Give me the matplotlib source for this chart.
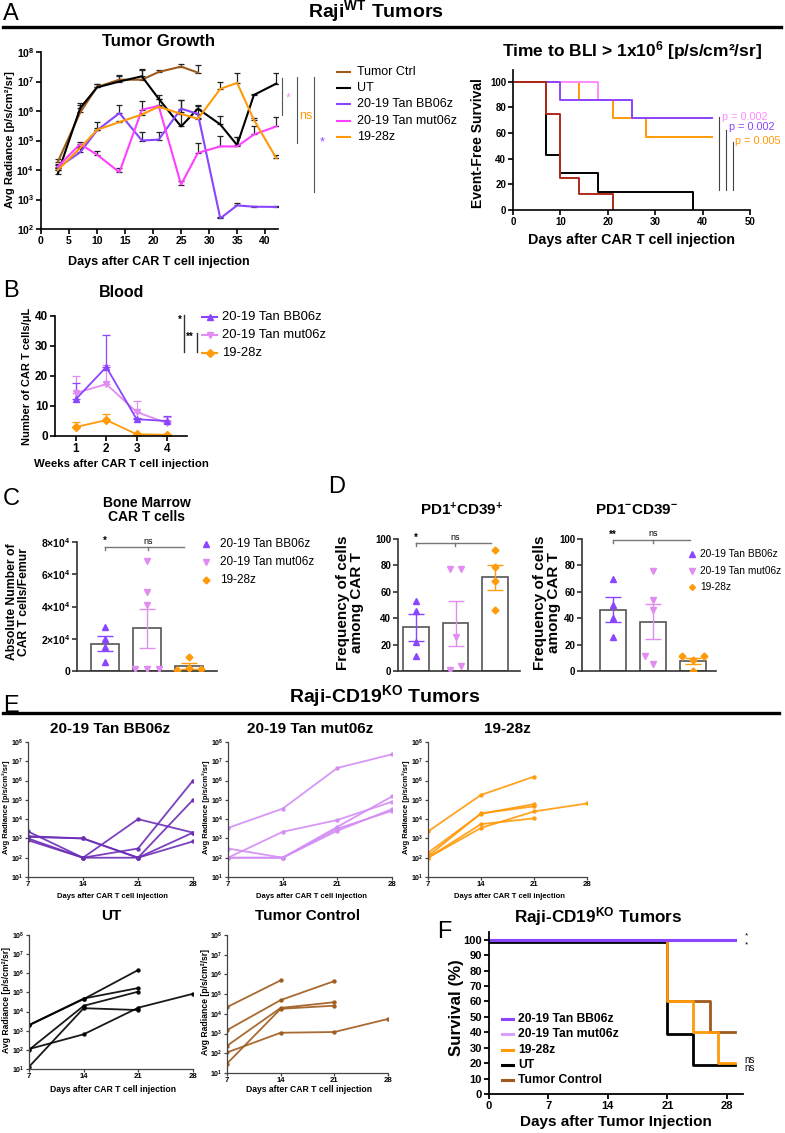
import numpy as np
import matplotlib
matplotlib.use("Agg")
import matplotlib.pyplot as plt
from matplotlib.lines import Line2D
from matplotlib.ticker import NullLocator
from matplotlib import font_manager
import matplotlib.transforms as mtransforms

W, H = 785, 1133
plt.rcParams['font.family'] = ['Liberation Sans', 'DejaVu Sans']
plt.rcParams['font.weight'] = 'bold'
plt.rcParams['mathtext.fontset'] = 'custom'
plt.rcParams['mathtext.rm'] = 'Liberation Sans:bold'
plt.rcParams['mathtext.bf'] = 'Liberation Sans:bold'
plt.rcParams['mathtext.it'] = 'Liberation Sans:bold'
plt.rcParams['mathtext.default'] = 'rm'
plt.rcParams['axes.unicode_minus'] = False

installed = {f.name for f in font_manager.fontManager.ttflist}
NARROW = 'Liberation Sans Narrow' in installed
NF = ['Liberation Sans Narrow', 'Liberation Sans'] if NARROW else ['Liberation Sans']
NS = 1.0 if NARROW else 0.82

# colours
C_TC = '#a05a1c'
C_UT = 'black'
C_BB = '#8a45ff'
C_MUT = '#ff40ff'
C_MUT_L = '#e08cf0'
C_KM_MUT = '#ff8cff'
C_KM_TC = '#b02a1a'
C_ORG = '#ff9a0a'
C_E_BB = '#6c2db5'
C_E_MUT = '#d38cf5'
C_F_MUT = '#d9a0ff'

# ---------------- data ----------------
# A: tumour growth, mean and top of error bar
days_a = [3, 7, 10, 14, 18, 21, 25, 28, 32, 35, 38, 42]
tc_mean = [1.9e4, 9.0e5, 6.5e6, 1.15e7, 1.15e7, 2.1e7, 3.2e7, 2.0e7]
tc_upper = [2.3e4, 1.6e6, 8.3e6, 1.6e7, 2.5e7, 2.4e7, 4.0e7, 3.7e7]
ut_mean = [7.6e3, 1.26e6, 6.3e6, 1.0e7, 1.5e7, 2.6e6, 3.0e5, 1.2e6, 3.5e5, 7.0e4, 3.5e6, 8.5e6]
ut_upper = [1.0e4, 1.9e6, 8.5e6, 1.5e7, 2.6e7, 3.5e6, 2.4e6, 1.6e6, 7.0e5, 1.3e5, 3.9e6, 1.9e7]
bb_mean = [1.2e4, 4.0e4, 2.2e5, 8.5e5, 1.0e5, 1.07e5, 1.2e6, 8.0e5, 2.3e2, 6.3e2, 5.7e2, 5.6e2]
bb_upper = [1.5e4, 6.0e4, 4.2e5, 1.6e6, 1.9e5, 1.9e5, 2.4e6, 1.5e6, 2.5e2, 7.6e2, 5.9e2, 5.8e2]
mut_mean = [1.3e4, 7.6e4, 3.3e4, 8.4e3, 1.1e6, 1.5e6, 3.2e3, 3.8e4, 6.3e4, 6.3e4, 1.6e5, 3.0e5]
mut_upper = [1.6e4, 9.0e4, 4.5e4, 1.2e4, 2.1e6, 2.6e6, 4.1e3, 8.3e4, 1.4e5, 1.3e5, 3.2e5, 6.1e5]
org_mean = [1.0e4, 5.6e4, 2.3e5, 4.2e5, 7.6e5, 1.4e6, 8.0e5, 5.4e5, 5.6e6, 9.0e6, 5.0e5, 2.5e4]
org_upper = [1.2e4, 6.5e4, 2.6e5, 4.6e5, 8.5e5, 1.6e6, 9.0e5, 6.0e5, 1.0e7, 1.9e7, 5.8e5, 3.2e4]

# A right: event-free survival (step)
km_tc_t, km_tc_s = [0, 7, 10, 14, 21], [100, 75, 25, 12.5, 0]
km_ut_t, km_ut_s = [0, 7, 10, 18, 38], [100, 42.9, 28.6, 14.3, 0]
km_bb_t, km_bb_s = [0, 10, 25, 42], [100, 85.7, 71.4, 71.4]
km_mut_t, km_mut_s = [0, 18, 25, 42], [100, 85.7, 71.4, 71.4]
km_org_t, km_org_s = [0, 14, 21, 28, 42], [100, 85.7, 71.4, 57.1, 57.1]

# B: blood
weeks = [1, 2, 3, 4]
blood_bb = [12.3, 23.0, 5.6, 5.0]
blood_bb_err = [5.5, 10.8, 0.4, 1.8]
blood_mut = [14.3, 17.3, 8.0, 4.3]
blood_mut_err = [5.8, 6.5, 3.6, 2.2]
blood_org = [3.0, 5.3, 0.6, 0.4]
blood_org_err = [1.6, 1.9, 0.2, 0.2]

# C: bone marrow
groups = ['20-19 Tan BB06z', '20-19 Tan mut06z', '19-28z']
bm_mean = [1.69e4, 2.65e4, 0.31e4]
bm_sem = [0.47e4, 1.21e4, 0.18e4]
bm_bb = [2.7e4, 2.0e4, 1.5e4, 0.55e4]
bm_mut = [6.85e4, 4.9e4, 4.1e4, 0.1e4, 0.1e4, 0.1e4]
bm_org = [0.85e4, 0.2e4, 0.05e4, 0.15e4]
bm_mut_jit = [0, 0, 0, -0.28, 0, 0.28]
bm_org_jit = [0, 0, -0.28, 0.28]

# D: PD1+CD39+ and PD1-CD39-
pp_mean = [33.0, 36.0, 71.0]
pp_sem = [10.0, 16.7, 9.5]
pp_bb = [53, 45.5, 22, 11.5]
pp_mut = [77, 77, 25.5, 4, 0.5]
pp_org = [91.5, 78.5, 68, 46]
pp_mut_jit = [-0.14, 0.14, 0, 0.14, -0.14]
nn_mean = [46.5, 37.5, 7.6]
nn_sem = [9.2, 13.3, 2.6]
nn_bb = [69.5, 50, 40, 26]
nn_mut = [75.5, 54, 46, 11, 5]
nn_org = [11, 11, 8.5, 0]
nn_mut_jit = [0, 0, 0, -0.2, 0]
nn_org_jit = [-0.27, 0.27, 0, 0]

# E: individual BLI curves (days 7, 14, 21, 28)
e_days = [7, 14, 21, 28]
nan = np.nan
e_bb = [[1.3e3, 1.0e3, 1.0e2, 2.0e3],
        [1.2e3, 1.0e3, 1.0e2, 7.0e2],
        [2.3e3, 1.0e2, 1.0e4, 2.0e3],
        [8.0e2, 1.0e2, 3.0e2, 1.0e6],
        [1.0e3, 1.0e2, 1.0e2, 1.0e5]]
e_mut = [[3.5e3, 3.5e4, 4.5e6, 2.3e7],
         [1.0e2, 2.2e3, 9.0e3, 8.0e4],
         [3.0e2, 1.0e2, 4.0e3, 1.5e5],
         [1.0e2, 1.0e2, 3.2e3, 2.7e4],
         [1.0e2, 1.0e2, 2.5e3, 3.3e4]]
e_org = [[2.3e3, 1.8e5, 1.6e6, nan],
         [1.8e2, 1.9e4, 6.0e4, nan],
         [1.2e2, 2.0e4, 4.6e4, nan],
         [1.0e2, 5.5e3, 1.1e4, nan],
         [1.0e2, 3.5e3, 2.5e4, 6.5e4]]
e_ut = [[1.9e3, 4.5e4, 1.5e6, nan],
        [2.0e3, 4.8e4, 1.7e5, nan],
        [1.0e2, 2.0e4, 1.1e5, nan],
        [1.3e1, 1.5e4, 1.2e4, nan],
        [1.1e2, 6.5e2, 1.6e4, 8.5e4]]
e_tc = [[2.2e4, 5.0e5, nan, nan],
        [1.5e3, 5.0e4, 4.6e5, nan],
        [2.4e2, 2.0e4, 3.9e4, nan],
        [1.1e2, 1.1e3, 1.2e3, 5.5e3],
        [3.0e1, 1.8e4, 2.6e4, nan]]

# F: survival
f_bb_t, f_bb_s = [0, 29], [100, 100]
f_mut_t, f_mut_s = [0, 29], [100, 100]
f_org_t, f_org_s = [0, 21, 24, 27, 29], [100, 60, 40, 20, 20]
f_ut_t, f_ut_s = [0, 21, 24, 29], [100, 40, 20, 20]
f_tc_t, f_tc_s = [0, 21, 26, 29], [100, 60, 40, 40]

# ---------------- helpers ----------------
fig = plt.figure(figsize=(W / 100, H / 100), dpi=100)


def px_axes(x0, y0, x1, y1):
    return fig.add_axes([x0 / W, 1 - y1 / H, (x1 - x0) / W, (y1 - y0) / H])


def ftext(x, y, s, **kw):
    kw.setdefault('ha', 'center')
    kw.setdefault('va', 'center')
    return fig.text(x / W, 1 - y / H, s, **kw)


def fline(xs, ys, **kw):
    fig.add_artist(Line2D([x / W for x in xs], [1 - y / H for y in ys], **kw))


def clean(ax, lw=1.2, size=7.5, length=3.5, color='black', pad=1.5):
    ax.spines['top'].set_visible(False)
    ax.spines['right'].set_visible(False)
    for s in ('left', 'bottom'):
        ax.spines[s].set_linewidth(lw)
        ax.spines[s].set_color(color)
    ax.tick_params(width=lw, length=length, labelsize=size, pad=pad, color=color)


def log_ticks(ax, lo, hi, size, **kw):
    ax.set_yscale('log')
    ax.set_ylim(10.0 ** lo, 10.0 ** hi)
    ax.set_yticks([10.0 ** k for k in range(lo, hi + 1)])
    ax.set_yticklabels([r'$10^{%d}$' % k for k in range(lo, hi + 1)], fontsize=size, **kw)
    ax.yaxis.set_minor_locator(NullLocator())


def legend_entry(x0, x1, y, color, label, tx, size, marker=None, ms=4, lw=1.5, weight='normal'):
    if lw > 0:
        fline([x0, x1], [y, y], color=color, lw=lw)
    if marker:
        fig.add_artist(Line2D([(x0 + x1) / 2 / W], [1 - y / H], marker=marker, color=color,
                              ms=ms, ls='none'))
    ftext(tx, y, label, ha='left', fontsize=size, fontweight=weight)


# ---------------- headers ----------------
ftext(3, 20, 'A', ha='left', va='baseline', fontsize=17, fontweight='normal')
ftext(376, 17, r'Raji$^{WT}$ Tumors', va='baseline', fontsize=14)
fline([3, 781], [26.5, 26.5], color='black', lw=2.4)

# ---------------- A left ----------------
ax = px_axes(41, 52, 278, 229)
clean(ax)
for mean, upper, col in [(tc_mean, tc_upper, C_TC), (ut_mean, ut_upper, C_UT),
                         (bb_mean, bb_upper, C_BB), (mut_mean, mut_upper, C_MUT),
                         (org_mean, org_upper, C_ORG)]:
    d = days_a[:len(mean)]
    ax.plot(d, mean, color=col, lw=1.5, zorder=3)
    ax.errorbar(d, mean, yerr=[np.zeros(len(mean)), np.array(upper) - np.array(mean)],
                fmt='none', ecolor='#222222', elinewidth=0.9, capsize=2.3, capthick=0.9, zorder=2)
log_ticks(ax, 2, 8, 7.5)
ax.set_xlim(0, 42.3)
ax.set_xticks(range(0, 45, 5))
ax.tick_params(axis='x', labelsize=7.5)
ftext(159, 42, 'Tumor Growth', fontsize=12)
ftext(159, 262, 'Days after CAR T cell injection', fontsize=9)
ftext(10, 140, 'Avg Radiance [p/s/cm²/sr]', rotation=90, fontsize=8)

# significance bars
fline([282, 282], [78, 115], color='#555555', lw=0.8)
ftext(288, 98, '*', color=C_KM_MUT, fontsize=9, fontweight='normal')
fline([297, 297], [77, 143], color='#555555', lw=0.8)
ftext(306, 116, 'ns', color=C_ORG, fontsize=9, fontweight='normal')
fline([314, 314], [77, 192], color='#555555', lw=0.8)
ftext(322, 142, '*', color=C_BB, fontsize=9, fontweight='normal')

for i, (lab, col) in enumerate([('Tumor Ctrl', C_TC), ('UT', C_UT), ('20-19 Tan BB06z', C_BB),
                                ('20-19 Tan mut06z', C_MUT), ('19-28z', C_ORG)]):
    legend_entry(337, 350, 72 + i * 16.2, col, lab, 357, 9)

# ---------------- A right ----------------
ax = px_axes(513, 70, 750, 210)
clean(ax, size=7)
for t, s, col in [(km_org_t, km_org_s, C_ORG), (km_mut_t, km_mut_s, C_KM_MUT),
                  (km_bb_t, km_bb_s, C_BB), (km_ut_t, km_ut_s, C_UT),
                  (km_tc_t, km_tc_s, C_KM_TC)]:
    ax.step(t, s, where='post', color=col, lw=1.4)
ax.set_xlim(0, 50)
ax.set_ylim(0, 109)
ax.set_xticks(range(0, 60, 10))
ax.set_yticks(range(0, 120, 20))
ftext(632, 51, r'Time to BLI > 1x10$^{6}$ [p/s/cm²/sr]', fontsize=12.5)
ftext(632, 240, 'Days after CAR T cell injection', fontsize=10.3)
ftext(478, 143, 'Event-Free Survival', rotation=90, fontsize=10)
fline([719, 719], [117, 190], color='#444444', lw=0.8)
fline([726, 726], [130, 190], color='#444444', lw=0.8)
fline([733, 733], [142, 190], color='#444444', lw=0.8)
ftext(722, 117, 'p = 0.002', ha='left', color=C_KM_MUT, fontsize=7.8, fontweight='normal')
ftext(729, 127, 'p = 0.002', ha='left', color=C_BB, fontsize=7.8, fontweight='normal')
ftext(735, 141, 'p = 0.005', ha='left', color=C_ORG, fontsize=7.8, fontweight='normal')

# ---------------- B ----------------
ftext(3, 297, 'B', ha='left', va='baseline', fontsize=17, fontweight='normal')
ax = px_axes(55, 316, 187, 436)
clean(ax, size=8.5)
for vals, err, col, mk in [(blood_org, blood_org_err, C_ORG, 'D'),
                           (blood_mut, blood_mut_err, C_MUT_L, 'v'),
                           (blood_bb, blood_bb_err, C_BB, '^')]:
    ax.errorbar(weeks, vals, yerr=[np.zeros(4), err], color=col, lw=1.3, marker=mk, ms=4,
                elinewidth=0.9, capsize=3, capthick=0.9)
ax.set_xlim(0.31, 4.66)
ax.set_ylim(0, 40)
ax.set_xticks(weeks)
ax.set_yticks(range(0, 50, 10))
ftext(122, 293, 'Blood', fontsize=11.5)
ftext(121, 464, 'Weeks after CAR T cell injection', fontsize=8.2)
ftext(27, 376, 'Number of CAR T cells/μL', rotation=90, fontsize=8)
for i, (lab, col, mk) in enumerate([('20-19 Tan BB06z', C_BB, '^'), ('20-19 Tan mut06z', C_MUT_L, 'v'),
                                    ('19-28z', C_ORG, 'D')]):
    legend_entry(202, 217, 317 + i * 18, col, lab, 222, 9.4, marker=mk, ms=4)
ftext(180, 320, '*', fontsize=7)
fline([184, 184], [315, 352], color='#333333', lw=1)
ftext(190, 337, '**', fontsize=7)
fline([197, 197], [333, 352], color='#333333', lw=1)


# ---------------- C / D bar charts ----------------
def bar_panel(box, means, sems, pts, jits, ymax, yticks, xl, tick_size):
    ax = px_axes(*box)
    clean(ax, size=tick_size, color='#333333')
    cols = [C_BB, C_MUT_L, C_ORG]
    mks = ['^', 'v', 'D']
    ax.bar(range(3), means, width=0.65, color='white', edgecolor='#555555', lw=1.2, zorder=1)
    for i in range(3):
        ax.errorbar(i, means[i], yerr=sems[i], color=cols[i], capsize=6, elinewidth=1,
                    capthick=1, zorder=3)
        ax.plot(np.full(len(pts[i]), i) + np.array(jits[i]), pts[i], ls='none', marker=mks[i],
                color=cols[i], ms=4.5 if mks[i] != 'D' else 3.5, zorder=4)
    ax.set_xlim(*xl)
    ax.set_ylim(0, ymax)
    ax.set_yticks(yticks)
    ax.set_xticks([])
    return ax


ftext(3, 505, 'C', ha='left', va='baseline', fontsize=17, fontweight='normal')
ax = bar_panel((77, 542, 217, 671), bm_mean, bm_sem, [bm_bb, bm_mut, bm_org],
               [[0] * 4, bm_mut_jit, bm_org_jit], 8e4, [0, 2e4, 4e4, 6e4, 8e4], (-0.67, 2.67), 7.5)
ax.set_yticklabels(['0', r'$2{\times}10^{4}$', r'$4{\times}10^{4}$', r'$6{\times}10^{4}$',
                    r'$8{\times}10^{4}$'])
ftext(147, 510, 'Bone Marrow\nCAR T cells', fontsize=10, linespacing=1.0)
ftext(18, 602, 'Absolute Number of\nCAR T cells/Femur', rotation=90, fontsize=8.7, linespacing=1.05)
fline([105, 184], [547, 547], color='#777777', lw=1)
fline([105, 105], [547, 550], color='#777777', lw=1)
fline([148, 148], [547, 550], color='#777777', lw=1)
ftext(105, 541, '*', fontsize=7)
ftext(148, 541, 'ns', fontsize=6.5, fontweight='normal')
for i, (lab, col, mk) in enumerate([('20-19 Tan BB06z', C_BB, '^'), ('20-19 Tan mut06z', C_MUT_L, 'v'),
                                    ('19-28z', C_ORG, 'D')]):
    legend_entry(206, 206, 544 + i * 18, col, lab, 220, 8.5, marker=mk,
                 ms=4.5 if mk != 'D' else 3.5, lw=0)

ftext(328, 493, 'D', ha='left', va='baseline', fontsize=17, fontweight='normal')
ax = bar_panel((398, 539, 520, 671), pp_mean, pp_sem, [pp_bb, pp_mut, pp_org],
               [[0] * 4, pp_mut_jit, [0] * 4], 100, range(0, 120, 20), (-0.46, 2.63), 7)
ftext(462, 510, r'PD1$^{+}$CD39$^{+}$', fontsize=11)
ftext(350, 603, 'Frequency of cells\namong CAR T', rotation=90, fontsize=11, linespacing=1.0)
fline([416, 491], [543, 543], color='#777777', lw=1)
fline([416, 416], [543, 546], color='#777777', lw=1)
fline([455, 455], [543, 546], color='#777777', lw=1)
ftext(416, 538, '*', fontsize=7)
ftext(455, 537, 'ns', fontsize=6.5, fontweight='normal')

ax = bar_panel((582, 539, 716, 671), nn_mean, nn_sem, [nn_bb, nn_mut, nn_org],
               [[0] * 4, nn_mut_jit, nn_org_jit], 100, range(0, 120, 20), (-0.78, 2.58), 7)
ftext(637, 510, r'PD1$^{-}$CD39$^{-}$', fontsize=11)
ftext(547, 603, 'Frequency of cells\namong CAR T', rotation=90, fontsize=11, linespacing=1.0)
fline([613, 690], [540, 540], color='#777777', lw=1)
fline([613, 613], [540, 543], color='#777777', lw=1)
fline([653, 653], [540, 543], color='#777777', lw=1)
ftext(613, 535, '**', fontsize=7)
ftext(653, 534, 'ns', fontsize=6.5, fontweight='normal')
for i, (lab, col, mk) in enumerate([('20-19 Tan BB06z', C_BB, '^'), ('20-19 Tan mut06z', C_MUT_L, 'v'),
                                    ('19-28z', C_ORG, 'D')]):
    legend_entry(692, 692, 554 + i * 16.5, col, lab, 700, 7.3, marker=mk,
                 ms=4 if mk != 'D' else 3, lw=0)

# ---------------- E ----------------
ftext(3, 712, 'E', ha='left', va='baseline', fontsize=17, fontweight='normal')
ftext(385, 702, r'Raji-CD19$^{KO}$ Tumors', va='baseline', fontsize=14)
fline([3, 779], [713, 713], color='black', lw=2.4)


def e_panel(box, mice, col, title, title_y, xlab_y, ylab_x, lab_size):
    x0, y0, x1, y1 = box
    ax = px_axes(*box)
    clean(ax, lw=0.9, size=5.2, length=2.2, color='#444444', pad=0.8)
    for m in mice:
        ax.plot(e_days, m, color=col, lw=1.3, marker='o', ms=2.2, mfc=col, mec=col, alpha=0.9)
    log_ticks(ax, 1, 8, 5.0)
    ax.set_xlim(7, 28)
    ax.set_xticks(e_days)
    for lab in ax.get_xticklabels():
        lab.set_family(NF)
        lab.set_fontsize(6.8 * NS)
    ftext((x0 + x1) / 2, title_y, title, fontsize=11)
    ftext((x0 + x1) / 2 + 2, xlab_y, 'Days after CAR T cell injection', family=NF,
          fontsize=lab_size * NS)
    ftext(ylab_x, (y0 + y1) / 2 - 2, 'Avg Radiance [p/s/cm²/sr]', rotation=90, family=NF,
          fontsize=lab_size * NS)
    return ax


e_panel((28, 742, 193, 877), e_bb, C_E_BB, '20-19 Tan BB06z', 729, 896, 6, 6.7)
e_panel((228, 742, 392, 877), e_mut, C_E_MUT, '20-19 Tan mut06z', 729, 896, 206, 6.7)
e_panel((428, 742, 587, 877), e_org, C_ORG, '19-28z', 729, 896, 406, 6.7)
e_panel((29, 935, 193, 1069), e_ut, C_UT, 'UT', 916, 1089, 7, 7.6)
e_panel((227, 935, 388, 1073), e_tc, C_TC, 'Tumor Control', 916, 1089, 205, 7.6)

# ---------------- F ----------------
ftext(437, 938, 'F', ha='left', va='baseline', fontsize=17, fontweight='normal')
ax = px_axes(489, 932, 743, 1094)
clean(ax, lw=1.3, size=8)
shift = mtransforms.offset_copy(ax.transData, fig=fig, x=0, y=-1.5, units='points')
ax.step(f_tc_t, f_tc_s, where='post', color=C_TC, lw=2)
ax.step(f_ut_t, f_ut_s, where='post', color=C_UT, lw=2, transform=shift)
ax.step(f_org_t, f_org_s, where='post', color=C_ORG, lw=2)
ax.step(f_mut_t, f_mut_s, where='post', color=C_F_MUT, lw=2.2)
ax.step(f_bb_t, f_bb_s, where='post', color=C_BB, lw=2.2)
ax.set_xlim(0, 29.9)
ax.set_ylim(0, 105)
ax.set_xticks([0, 7, 14, 21, 28])
ax.set_yticks(range(0, 110, 10))
ftext(598, 917, r'Raji-CD19$^{KO}$ Tumors', fontsize=12.3)
ftext(616, 1122, 'Days after Tumor Injection', fontsize=11)
ftext(457, 1008, 'Survival (%)', rotation=90, fontsize=12.2)
ftext(745, 936, '*', ha='left', va='center', fontsize=6, fontweight='normal')
ftext(745, 945, '*', ha='left', va='center', fontsize=6, fontweight='normal')
ftext(744, 1060, 'ns', ha='left', fontsize=7, fontweight='normal')
ftext(744, 1068, 'ns', ha='left', fontsize=7, fontweight='normal')
for i, (lab, col) in enumerate([('20-19 Tan BB06z', C_BB), ('20-19 Tan mut06z', C_F_MUT),
                                ('19-28z', C_ORG), ('UT', C_UT), ('Tumor Control', C_TC)]):
    legend_entry(502, 513, 1019 + i * 15.3, col, lab, 518, 8.7, lw=2.2, weight='bold')

fig.savefig('out.png', dpi=100)
